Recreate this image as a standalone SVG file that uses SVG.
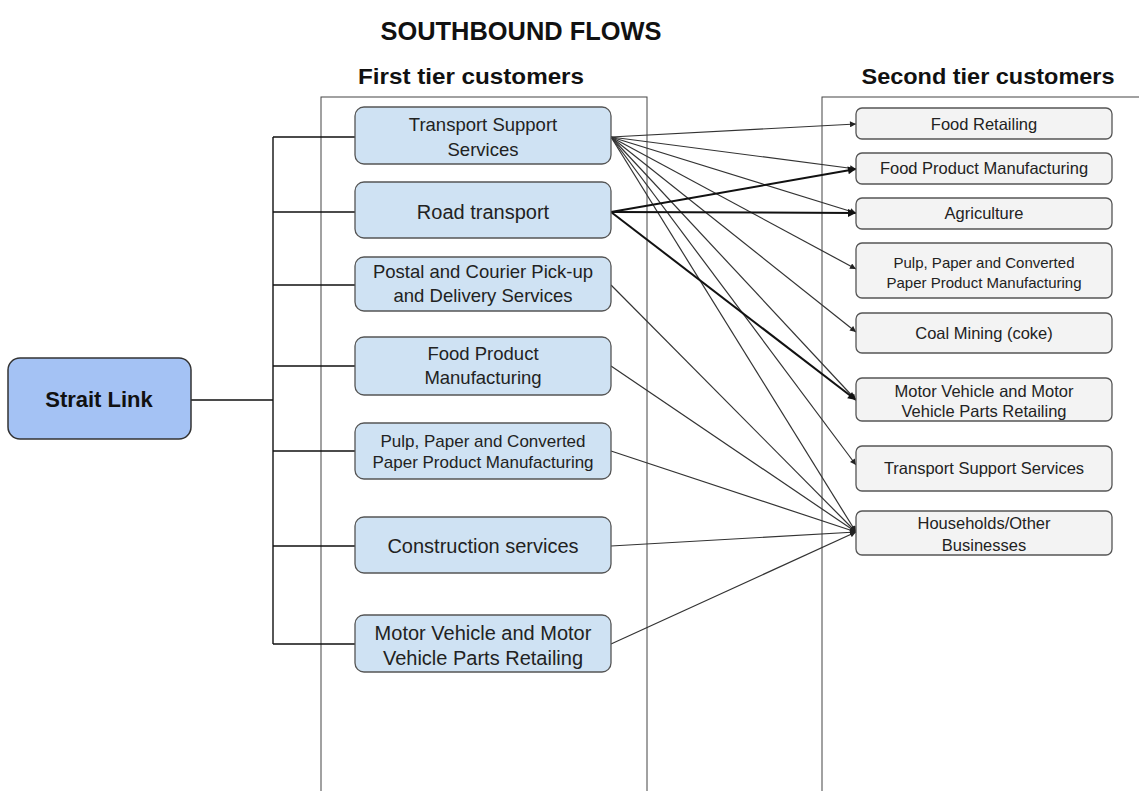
<svg xmlns="http://www.w3.org/2000/svg" width="1139" height="791" viewBox="0 0 1139 791">
<style>
text{font-family:"Liberation Sans",Arial,sans-serif;fill:#222;text-anchor:middle}
.hd{font-weight:bold;fill:#111}
.panel{fill:none;stroke:#444;stroke-width:1}
.n1 rect{fill:#cfe2f3;stroke:#555;stroke-width:1.3}
.n2 rect{fill:#f3f3f3;stroke:#555;stroke-width:1.3}
.n1 text{font-size:18.5px}
.n2 text{font-size:16.5px}
.tree{fill:none;stroke:#111;stroke-width:1.4}
.thin{fill:none;stroke:#333;stroke-width:1.2;marker-end:url(#ah)}
.thick{fill:none;stroke:#111;stroke-width:2;marker-end:url(#ahb)}
</style>
<defs>
<marker id="ah" viewBox="0 0 10 10" refX="10" refY="5" markerWidth="7" markerHeight="6" markerUnits="userSpaceOnUse" orient="auto"><path d="M0,0 L10,5 L0,10 z" fill="#222"/></marker>
<marker id="ahb" viewBox="0 0 10 10" refX="10" refY="5" markerWidth="12" markerHeight="8" markerUnits="userSpaceOnUse" orient="auto"><path d="M0,0 L10,5 L0,10 z" fill="#111"/></marker>
</defs>
<rect width="1139" height="791" fill="#fff"/>
<text class="hd" x="521" y="40" font-size="25" textLength="281" lengthAdjust="spacingAndGlyphs">SOUTHBOUND FLOWS</text>
<text class="hd" x="471" y="84" font-size="22" textLength="226" lengthAdjust="spacingAndGlyphs">First tier customers</text>
<text class="hd" x="988" y="84" font-size="22" textLength="253" lengthAdjust="spacingAndGlyphs">Second tier customers</text>
<rect class="panel" x="321" y="97" width="326" height="720"/>
<rect class="panel" x="822" y="97" width="340" height="720"/>
<g id="connectors">
<path class="tree" d="M191,400 H273 M273,137 V644 M273,137 H355 M273,212 H355 M273,285 H355 M273,366 H355 M273,451 H355 M273,546 H355 M273,644 H355"/>
<line class="thin" x1="611" y1="137" x2="856" y2="124"/>
<line class="thin" x1="611" y1="137" x2="856" y2="169"/>
<line class="thin" x1="611" y1="137" x2="856" y2="213"/>
<line class="thin" x1="611" y1="137" x2="856" y2="269"/>
<line class="thin" x1="611" y1="137" x2="856" y2="332"/>
<line class="thin" x1="611" y1="137" x2="856" y2="400"/>
<line class="thin" x1="611" y1="137" x2="856" y2="465"/>
<line class="thin" x1="611" y1="137" x2="856" y2="532"/>
<line class="thick" x1="611" y1="212" x2="856" y2="169"/>
<line class="thick" x1="611" y1="212" x2="856" y2="213"/>
<line class="thick" x1="611" y1="212" x2="856" y2="400"/>
<line class="thin" x1="611" y1="285" x2="856" y2="532"/>
<line class="thin" x1="611" y1="366" x2="856" y2="532"/>
<line class="thin" x1="611" y1="451" x2="856" y2="532"/>
<line class="thin" x1="611" y1="546" x2="856" y2="532"/>
<line class="thin" x1="611" y1="644" x2="856" y2="532"/>
</g>
<g id="strait-link"><rect x="8" y="358" width="183" height="81" rx="12" fill="#a4c2f4" stroke="#333" stroke-width="1.5"/><text class="hd" x="99" y="407" font-size="22">Strait Link</text></g>
<g id="l-tss" class="n1"><rect x="355" y="107" width="256" height="57" rx="9"/><text x="483" y="131">Transport Support</text><text x="483" y="156">Services</text></g>
<g id="l-road" class="n1"><rect x="355" y="182" width="256" height="56" rx="9"/><text x="483" y="219" style="font-size:20px">Road transport</text></g>
<g id="l-postal" class="n1"><rect x="355" y="257" width="256" height="54" rx="9"/><text x="483" y="278">Postal and Courier Pick-up</text><text x="483" y="302">and Delivery Services</text></g>
<g id="l-food" class="n1"><rect x="355" y="337" width="256" height="58" rx="9"/><text x="483" y="360">Food Product</text><text x="483" y="384">Manufacturing</text></g>
<g id="l-pulp" class="n1"><rect x="355" y="423" width="256" height="56" rx="9"/><text x="483" y="447" style="font-size:17px">Pulp, Paper and Converted</text><text x="483" y="468" style="font-size:17px">Paper Product Manufacturing</text></g>
<g id="l-constr" class="n1"><rect x="355" y="517" width="256" height="56" rx="9"/><text x="483" y="553" style="font-size:20px">Construction services</text></g>
<g id="l-motor" class="n1"><rect x="355" y="615" width="256" height="57" rx="9"/><text x="483" y="640" style="font-size:20px">Motor Vehicle and Motor</text><text x="483" y="665" style="font-size:20px">Vehicle Parts Retailing</text></g>
<g id="r-foodret" class="n2"><rect x="856" y="108" width="256" height="31" rx="6"/><text x="984" y="130">Food Retailing</text></g>
<g id="r-foodman" class="n2"><rect x="856" y="153" width="256" height="31" rx="6"/><text x="984" y="174">Food Product Manufacturing</text></g>
<g id="r-agri" class="n2"><rect x="856" y="198" width="256" height="31" rx="6"/><text x="984" y="219">Agriculture</text></g>
<g id="r-pulp" class="n2"><rect x="856" y="243" width="256" height="55" rx="6"/><text x="984" y="268" style="font-size:15px">Pulp, Paper and Converted</text><text x="984" y="288" style="font-size:15px">Paper Product Manufacturing</text></g>
<g id="r-coal" class="n2"><rect x="856" y="313" width="256" height="40" rx="6"/><text x="984" y="339">Coal Mining (coke)</text></g>
<g id="r-motor" class="n2"><rect x="856" y="378" width="256" height="43" rx="6"/><text x="984" y="397">Motor Vehicle and Motor</text><text x="984" y="417">Vehicle Parts Retailing</text></g>
<g id="r-tss" class="n2"><rect x="856" y="446" width="256" height="45" rx="6"/><text x="984" y="474">Transport Support Services</text></g>
<g id="r-house" class="n2"><rect x="856" y="511" width="256" height="44" rx="6"/><text x="984" y="529">Households/Other</text><text x="984" y="551">Businesses</text></g>
</svg>
